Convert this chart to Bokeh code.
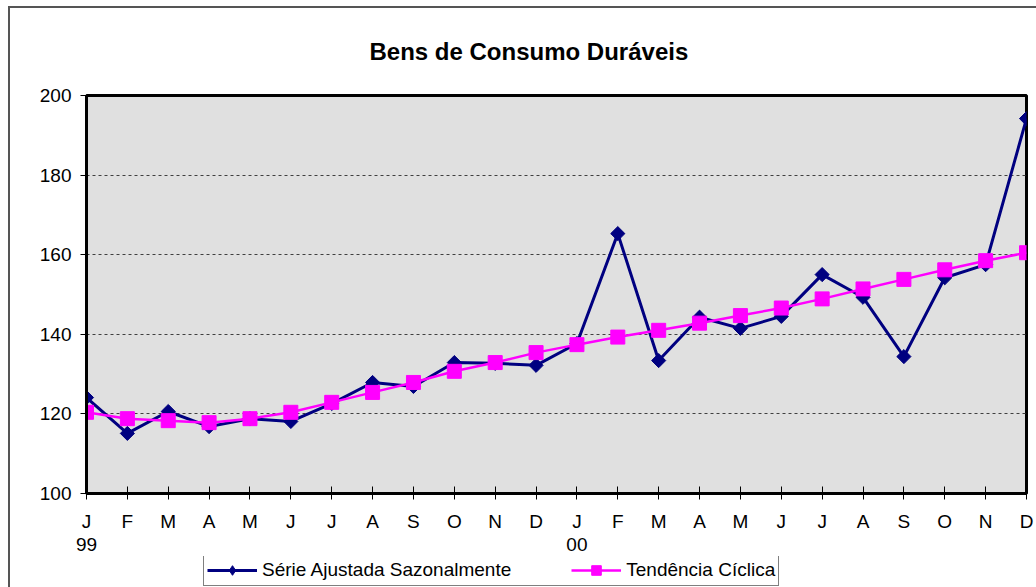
import math
from bokeh.plotting import figure
from bokeh.layouts import column
from bokeh.models import Range1d, FixedTicker, LinearAxis, Legend, LegendItem
from bokeh.embed import file_html
from bokeh.resources import INLINE

# ---- data ----
months = ["J", "F", "M", "A", "M", "J", "J", "A", "S", "O", "N", "D",
          "J", "F", "M", "A", "M", "J", "J", "A", "S", "O", "N", "D"]
year_labels = {0: "99", 12: "00"}
serie_ajustada = [124.1, 115.1, 120.6, 116.8, 118.8, 118.1, 122.6, 127.9, 126.9, 132.9, 132.7, 132.2,
                  137.7, 165.3, 133.4, 144.3, 141.5, 144.5, 155.0, 149.3, 134.4, 154.2, 157.5, 194.2]
tendencia = [120.4, 118.8, 118.3, 117.8, 118.8, 120.4, 122.9, 125.4, 127.9, 130.7, 132.9, 135.4,
             137.4, 139.3, 141.0, 142.8, 144.7, 146.6, 148.9, 151.4, 153.8, 156.2, 158.5, 160.5]
y_ticks = [100, 120, 140, 160, 180, 200]
grid_ticks = [120, 140, 160, 180]
title_text = "Bens de Consumo Duráveis"
names = ["Série Ajustada Sazonalmente", "Tendência Cíclica"]

x = list(range(len(months)))
FONT = "Liberation Sans"
NAVY = "#000080"
MAG = "#ff00ff"

frame_css = {
    "background": "linear-gradient(#555555, #555555) 8px 6px / 2px 100% no-repeat, "
                  "linear-gradient(#555555, #555555) 8px 6px / 100% 2px no-repeat, white",
}

p = figure(width=1036, height=556,
           x_range=Range1d(0, len(months) - 1), y_range=Range1d(100, 200),
           output_backend="svg", toolbar_location=None,
           min_border_left=86, min_border_right=10, min_border_top=95, min_border_bottom=63,
           background_fill_color="#e0e0e0", border_fill_color="white", border_fill_alpha=0,
           outline_line_color="black", outline_line_width=3)

p.title.text = title_text
p.title.align = "left"
p.title.offset = 283
p.title.text_font = FONT
p.title.text_font_size = "24px"
p.title.text_font_style = "bold"
p.title.text_color = "black"
p.title.standoff = 62

# x axis (months)
xa = p.xaxis[0]
xa.ticker = FixedTicker(ticks=x)
xa.major_label_overrides = {i: m for i, m in enumerate(months)}
xa.axis_line_color = "black"
xa.axis_line_width = 3
xa.major_tick_in = 7
xa.major_tick_out = 6
xa.major_tick_line_color = "black"
xa.minor_tick_line_color = None
xa.major_label_standoff = 11
xa.major_label_text_font = FONT
xa.major_label_text_font_size = "19px"
xa.major_label_text_color = "black"

# second x axis (years)
xa2 = LinearAxis(ticker=FixedTicker(ticks=list(year_labels.keys())),
                 major_label_overrides=year_labels,
                 axis_line_color=None, major_tick_line_color=None, minor_tick_line_color=None,
                 major_tick_out=0, major_tick_in=0, major_label_standoff=3,
                 major_label_text_font=FONT, major_label_text_font_size="19px",
                 major_label_text_color="black")
p.add_layout(xa2, "below")

# y axis
ya = p.yaxis[0]
ya.ticker = FixedTicker(ticks=y_ticks)
ya.axis_line_color = "black"
ya.axis_line_width = 3
ya.major_tick_in = 0
ya.major_tick_out = 6
ya.minor_tick_line_color = None
ya.major_label_standoff = 9
ya.major_label_text_font = FONT
ya.major_label_text_font_size = "19px"
ya.major_label_text_color = "black"

p.xgrid.grid_line_color = None
p.ygrid.ticker = FixedTicker(ticks=grid_ticks)
p.ygrid.grid_line_color = "#404040"
p.ygrid.grid_line_dash = "3 3"
p.ygrid.grid_line_width = 1


def draw(fig, navy_marker="square", navy_angle=math.pi / 4):
    l1 = fig.line(x, serie_ajustada, line_color=NAVY, line_width=3)
    s1 = fig.scatter(x, serie_ajustada, marker=navy_marker, size=10, angle=navy_angle,
                     fill_color=NAVY, line_color=NAVY)
    l2 = fig.line(x, tendencia, line_color=MAG, line_width=2.5)
    s2 = fig.scatter(x, tendencia, marker="square", size=14, fill_color=MAG, line_color=MAG)
    return l1, s1, l2, s2


draw(p)

# legend strip below the chart (same series, drawn out of its view; only the legend shows)
q = figure(width=1036, height=31, x_range=Range1d(0, 1), y_range=Range1d(0, 1),
           output_backend="svg", toolbar_location=None,
           min_border_left=0, min_border_right=0, min_border_top=0, min_border_bottom=0,
           background_fill_alpha=0, border_fill_alpha=0, outline_line_color=None)
q.axis.visible = False
q.grid.visible = False
ql1, qs1, ql2, qs2 = draw(q, navy_marker="diamond", navy_angle=0)

legend = Legend(items=[LegendItem(label=names[0], renderers=[ql1, qs1]),
                       LegendItem(label=names[1], renderers=[ql2, qs2])],
                orientation="horizontal", location=(117, 1),
                padding=3, spacing=60, glyph_width=50, glyph_height=24, label_standoff=5,
                label_height=20,
                label_text_font=FONT, label_text_font_size="19px", label_text_color="black",
                border_line_color="black", border_line_width=1,
                background_fill_color="white", background_fill_alpha=1.0,
                margin=0)
q.add_layout(legend, "center")

page = column(p, q, spacing=0, styles=frame_css)

open("out.html", "w").write(file_html(page, INLINE))
